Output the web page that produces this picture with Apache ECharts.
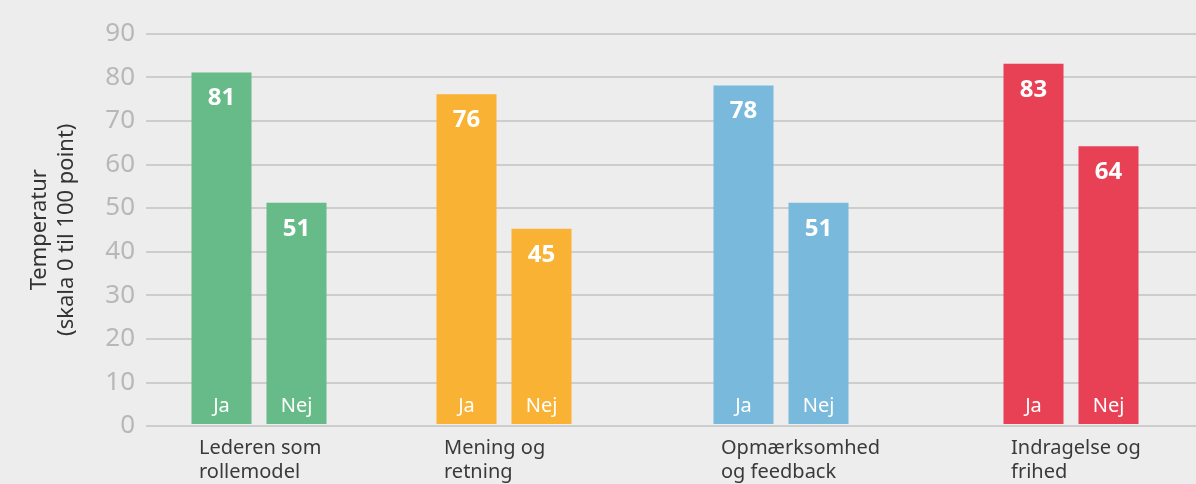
<!DOCTYPE html>
<html>
<head>
<meta charset="utf-8">
<script src="https://cdn.jsdelivr.net/npm/echarts@6/dist/echarts.min.js"></script>
<style>
  html, body { margin: 0; padding: 0; background: #ededed; }
  #chart { width: 1196px; height: 484px; }
</style>
</head>
<body>
<div id="chart"></div>
<script>
// ---- data ----
const groupNames = ['Lederen som\nrollemodel', 'Mening og\nretning', 'Opmærksomhed\nog feedback', 'Indragelse og\nfrihed'];
const answers = ['Ja', 'Nej'];
const jaValues = [81, 76, 78, 83];
const nejValues = [51, 45, 51, 64];
const yTitle = 'Temperatur\n(skala 0 til 100 point)';
const yMin = 0, yMax = 90, yStep = 10;

// ---- style / layout ----
const groupColors = ['#66bb88', '#f9b233', '#78b9dc', '#e84155'];
const groupLefts = [184, 429, 706, 996];
const groupWidth = 150;
const gridTop = 33.5, gridBottom = 58;
const font = "'Noto Sans', sans-serif";

const grids = [{ left: 146, right: 0, top: gridTop, bottom: gridBottom }];
const xAxes = [{ gridIndex: 0, type: 'value', show: false }];
const yAxes = [{
  gridIndex: 0, type: 'value', min: yMin, max: yMax, interval: yStep,
  axisLine: { show: false }, axisTick: { show: false },
  splitLine: { lineStyle: { color: '#c2c2c2', width: 1.5 } },
  axisLabel: { color: '#b8b8b8', fontSize: 26, fontFamily: font, margin: 11, padding: [0, 0, 10, 0] },
  name: yTitle, nameLocation: 'middle', nameRotate: 90, nameGap: 66,
  nameTextStyle: { color: '#333333', fontSize: 22, fontFamily: font, lineHeight: 27 }
}];
const series = [];

groupNames.forEach((g, i) => {
  const gi = i + 1;
  grids.push({ left: groupLefts[i], width: groupWidth, top: gridTop, bottom: gridBottom });
  xAxes.push({
    gridIndex: gi, type: 'category', data: answers, z: 5,
    axisLine: { show: false }, axisTick: { show: false },
    axisLabel: { inside: true, color: '#ffffff', fontSize: 20, fontFamily: font, margin: 8 },
    name: g, nameLocation: 'start', nameGap: -15, nameMoveOverlap: false,
    nameTextStyle: { color: '#3a3a3a', fontSize: 20, fontFamily: font, align: 'left', verticalAlign: 'top', lineHeight: 24, padding: [12, 0, 0, 0] }
  });
  yAxes.push({ gridIndex: gi, type: 'value', min: yMin, max: yMax, interval: yStep, show: false, splitLine: { show: false } });
  series.push({
    type: 'bar', xAxisIndex: gi, yAxisIndex: gi, barWidth: 60,
    data: [jaValues[i], nejValues[i]],
    itemStyle: { color: groupColors[i] },
    label: { show: true, position: 'insideTop', distance: 14, color: '#ffffff', fontSize: 24, fontWeight: 'bold', fontFamily: font },
    silent: true, animation: false
  });
});

const chart = echarts.init(document.getElementById('chart'));
chart.setOption({
  backgroundColor: '#ededed',
  animation: false,
  grid: grids, xAxis: xAxes, yAxis: yAxes, series: series
});
</script>
</body>
</html>
